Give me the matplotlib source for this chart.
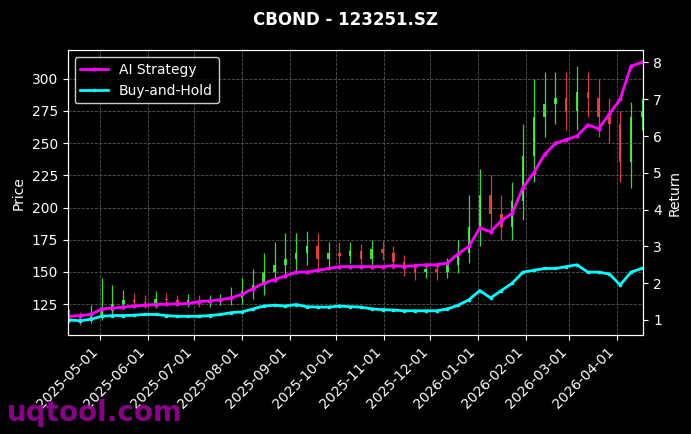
import matplotlib
matplotlib.use("Agg")
import matplotlib.pyplot as plt
import matplotlib.dates as mdates
import pandas as pd

dates = pd.date_range("2025-04-11", periods=54, freq="W-FRI")
close = [114,113,116,120,125,128,127,126,129,128,127,128,126,127,128,130,135,140,150,155,160,165,170,160,165,
         162,166,160,168,165,158,152,150,152,150,155,165,185,210,195,185,205,240,270,280,285,275,290,285,270,265,235,270,275]
openp = [115] + close[:-1]
hi_add = [6,5,8,25,15,8,6,5,6,5,4,5,4,5,5,8,10,12,15,18,20,15,12,10,8,
          8,7,6,7,6,5,5,5,5,5,6,10,25,20,15,15,15,25,30,25,20,20,20,15,15,15,10,12,10]
lo_add = [4,4,3,3,5,4,4,4,4,4,3,4,3,3,3,4,5,6,8,8,10,10,10,8,6,
          6,5,6,5,6,6,5,6,5,6,5,6,8,15,15,10,10,15,20,15,15,15,15,15,15,15,15,20,10]
strategy = [1.1,1.12,1.15,1.3,1.32,1.35,1.38,1.4,1.42,1.43,1.44,1.45,1.5,1.52,1.55,1.6,1.7,1.85,2.0,2.1,2.2,2.3,2.3,2.35,2.4,
            2.45,2.45,2.45,2.45,2.45,2.48,2.45,2.48,2.5,2.5,2.55,2.8,3.0,3.5,3.4,3.7,3.9,4.6,5.0,5.5,5.8,5.9,6.0,6.3,6.2,6.6,7.0,7.9,8.0]
buyhold = [1.0,0.98,1.02,1.1,1.12,1.12,1.13,1.15,1.15,1.12,1.1,1.1,1.1,1.12,1.15,1.2,1.22,1.3,1.38,1.4,1.38,1.42,1.36,1.35,1.35,
           1.38,1.36,1.35,1.3,1.28,1.27,1.25,1.25,1.25,1.25,1.3,1.4,1.55,1.8,1.6,1.8,2.0,2.3,2.35,2.4,2.4,2.45,2.5,2.3,2.3,2.25,1.95,2.3,2.4]

fig = plt.figure(figsize=(6.91,4.34), dpi=100, facecolor="black")
ax = fig.add_axes([0.098, 0.228, 0.833, 0.656])
ax.set_facecolor("black")
for d,o,c,h,l in zip(dates,openp,close,hi_add,lo_add):
    col = "#44ff44" if c >= o else "#ff4444"
    hi = max(o,c)+h; lo = min(o,c)-l
    ax.vlines(d, lo, hi, color=col, lw=0.9, alpha=0.85)
    ax.bar(d, abs(c-o) if c!=o else 0.5, bottom=min(o,c), width=1.6, color=col, alpha=0.85)
ax.set_ylim(101, 322)
ax.set_xlim(pd.Timestamp("2025-04-10"), pd.Timestamp("2026-04-18"))
ax.set_ylabel("Price", color="white")
ax.grid(True, color="#555555", ls="--", lw=0.6)
ax.xaxis.set_major_locator(mdates.MonthLocator())
ax.xaxis.set_major_formatter(mdates.DateFormatter("%Y-%m-%d"))
plt.setp(ax.get_xticklabels(), rotation=45, ha="right")

ax2 = ax.twinx()
l1, = ax2.plot(dates, strategy, color="magenta", lw=2, marker="o", ms=2, label="AI Strategy")
l2, = ax2.plot(dates, buyhold, color="cyan", lw=2, marker="s", ms=2, label="Buy-and-Hold")
ax2.set_ylim(0.59, 8.33)
ax2.set_ylabel("Return", color="white")
for a in (ax, ax2):
    a.tick_params(colors="white")
    for s in a.spines.values():
        s.set_color("white")
leg = ax2.legend(handles=[l1,l2], loc="upper left", facecolor="black", edgecolor="white")
for t in leg.get_texts():
    t.set_color("white")
fig.suptitle("CBOND - 123251.SZ", color="white", fontweight="bold", y=0.975)
fig.text(0.01, 0.03, "uqtool.com", color="#990099", fontsize=20, fontweight="bold", alpha=0.9)
fig.savefig("out.png", facecolor="black")
